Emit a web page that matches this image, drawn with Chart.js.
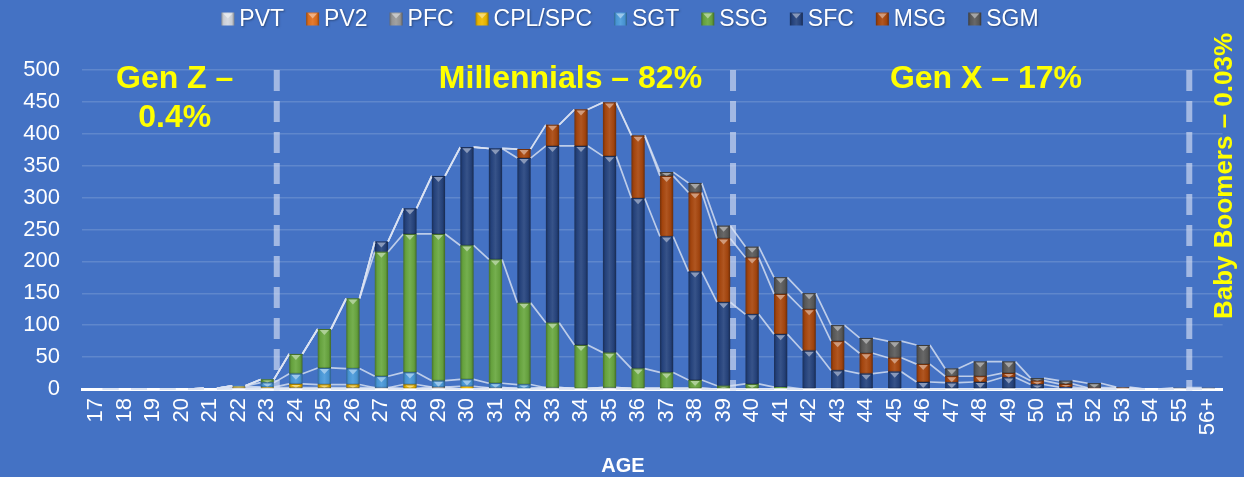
<!DOCTYPE html>
<html>
<head>
<meta charset="utf-8">
<script src="https://cdn.jsdelivr.net/npm/chart.js@4.4.1/dist/chart.umd.min.js"></script>
<style>
  html, body { margin: 0; padding: 0; background: #4472C4; }
  canvas { display: block; }
</style>
</head>
<body>
<canvas id="c" width="1244" height="477"></canvas>
<script>
// ---------------- DATA ----------------
const categories = ['17','18','19','20','21','22','23','24','25','26','27','28','29','30','31','32','33','34','35','36',
                    '37','38','39','40','41','42','43','44','45','46','47','48','49','50','51','52','53','54','55','56+'];
const seriesNames = ['PVT','PV2','PFC','CPL/SPC','SGT','SSG','SFC','MSG','SGM'];

const PVT = [0,0,0,0,0,0,0,0,0,0, 0,0,0,0,0,0,0,0,0,0, 0,0,0,0,0,0,0,0,0,0, 0,0,0,0,0,0,0,0,0,0];
const PV2 = [0,0,0,0,0,0,0,0,0,0, 0,0,0,0,0,0,0,0,0,0, 0,0,0,0,0,0,0,0,0,0, 0,0,0,0,0,0,0,0,0,0];
const PFC = [0,0,0,0,1,2,2,2,2,2, 2,1,3,0,2,1,2,1,2,1, 1,1,0,0,0,0,0,0,0,0, 0,0,0,0,0,0,0,0,0,0];
const CPL = [0,0,0,0,0,2,1,6,5,5, 0,6,0,4,0,0,0,0,0,0, 0,0,0,0,0,0,0,0,0,0, 0,0,0,0,0,0,0,0,0,0];
const SGT = [0,0,0,0,0,1,7,16,26,25, 18,19,10,11,7,6,0,0,0,0, 0,0,0,0,0,0,0,0,0,0, 0,0,0,0,0,0,0,0,0,0];
const SSG = [0,0,0,0,0,0,5,31,61,110, 195,217,230,210,194,128,102,68,55,31, 25,13,5,8,3,0,0,0,0,0, 0,0,0,0,0,0,0,0,0,0];
const SFC = [0,0,0,0,0,0,0,0,0,0, 16,40,91,154,174,227,277,312,308,267, 213,170,131,109,83,60,29,24,27,11, 10,11,18,7,3,1,0,0,0,0];
const MSG = [0,0,0,0,0,0,0,0,0,0, 0,0,0,0,0,14,33,57,84,98, 95,124,100,89,63,65,46,32,22,28, 10,9,7,6,5,1,2,0,0,0];
const SGM = [0,0,0,0,0,0,0,0,0,0, 0,0,0,0,0,0,0,0,0,1, 6,15,20,17,26,25,25,24,26,30, 12,23,18,4,5,7,1,0,2,2];

const seriesValues = [PVT, PV2, PFC, CPL, SGT, SSG, SFC, MSG, SGM];
const seriesColors = ['#D2D7DF','#E2701E','#9A9A9A','#F2BC00','#4A9ADB','#69A840','#26447F','#A9470E','#5B5B5B'];

const yTickMin = 0, yTickMax = 500, yTickStep = 50;
const xTitle = 'AGE';
// generation dividers: after these category labels
const dividerAfter = ['23','39','55'];
const genLabels = [
  { lines: ['Gen Z \u2013', '0.4%'], at: '19.75' },
  { lines: ['Millennials \u2013 82%'], at: '33.63' },
  { lines: ['Gen X \u2013 17%'], at: '48.2' }
];
const sideLabel = 'Baby Boomers \u2013 0.03%';

// ---------------- STYLE HELPERS ----------------
const FONT = "'Liberation Sans', Arial, sans-serif";
const BAR_PCT = 0.465;

function mix(hex, t) {
  const n = parseInt(hex.slice(1), 16);
  const r = (n >> 16) & 255, g = (n >> 8) & 255, b = n & 255;
  const f = c => t >= 0 ? Math.round(c + (255 - c) * t) : Math.round(c * (1 + t));
  return 'rgb(' + f(r) + ',' + f(g) + ',' + f(b) + ')';
}
function hGrad(ctx, x0, x1, hex) {
  const g = ctx.createLinearGradient(x0, 0, x1, 0);
  g.addColorStop(0, mix(hex, -0.32));
  g.addColorStop(0.18, mix(hex, -0.04));
  g.addColorStop(0.5, mix(hex, 0.08));
  g.addColorStop(0.82, mix(hex, -0.06));
  g.addColorStop(1, mix(hex, -0.38));
  return g;
}
function barFill(hex) {
  return (c) => {
    const ch = c.chart;
    const xs = ch.scales && ch.scales.x;
    if (!ch.chartArea || !xs || c.dataIndex === undefined || !xs.width) return hex;
    const step = xs.width / categories.length;
    const w = step * BAR_PCT;
    const xc = xs.getPixelForValue(c.dataIndex);
    return hGrad(ch.ctx, xc - w / 2, xc + w / 2, hex);
  };
}

// ---------------- PLUGINS ----------------
const seriesLinesPlugin = {
  id: 'seriesLines',
  afterDatasetsDraw(chart) {
    const ctx = chart.ctx;
    ctx.save();
    ctx.strokeStyle = 'rgba(220,228,242,0.8)';
    ctx.lineWidth = 1.7;
    chart.data.datasets.forEach((ds, d) => {
      const meta = chart.getDatasetMeta(d);
      ctx.beginPath();
      for (let i = 0; i < meta.data.length - 1; i++) {
        const a = meta.data[i], b = meta.data[i + 1];
        ctx.moveTo(a.x + a.width / 2, a.y);
        ctx.lineTo(b.x - b.width / 2, b.y);
      }
      ctx.stroke();
    });
    ctx.restore();
  }
};

const capsPlugin = {
  id: 'caps',
  afterDatasetsDraw(chart) {
    const ctx = chart.ctx;
    ctx.save();
    chart.data.datasets.forEach((ds, d) => {
      const meta = chart.getDatasetMeta(d);
      const hex = seriesColors[d];
      meta.data.forEach((el, i) => {
        const h = el.base - el.y;
        if (!(h >= 2)) return;
        const w = el.width, x = el.x, y = el.y;
        ctx.fillStyle = mix(hex, -0.35);
        ctx.fillRect(x - w / 2, y, w, 1);
        const th = Math.min(5, h - 1);
        ctx.fillStyle = mix(hex, 0.45);
        ctx.beginPath();
        ctx.moveTo(x - w / 2 + 2, y + 1);
        ctx.lineTo(x + w / 2 - 2, y + 1);
        ctx.lineTo(x, y + 1 + th);
        ctx.closePath();
        ctx.fill();
        ctx.fillStyle = 'rgba(0,0,0,0.18)';
        ctx.fillRect(x - w / 2, el.base - 1, w, 1);
      });
    });
    ctx.restore();
  }
};

const dividersPlugin = {
  id: 'dividers',
  afterDatasetsDraw(chart) {
    const {ctx, chartArea, scales: {x}} = chart;
    const step = x.width / categories.length;
    ctx.save();
    ctx.strokeStyle = 'rgba(220,228,245,0.62)';
    ctx.lineWidth = 6;
    ctx.setLineDash([21, 10]);
    dividerAfter.forEach(lbl => {
      const px = x.getPixelForValue(categories.indexOf(lbl)) + 0.33 * step;
      ctx.beginPath();
      ctx.moveTo(px, chartArea.top);
      ctx.lineTo(px, chartArea.bottom + 2);
      ctx.stroke();
    });
    ctx.restore();
  }
};

const textPlugin = {
  id: 'texts',
  afterDraw(chart) {
    const {ctx, scales: {x}} = chart;
    const step = x.width / categories.length;
    ctx.save();
    ctx.fillStyle = '#FFFF00';
    ctx.font = 'bold 32px ' + FONT;
    ctx.textAlign = 'center';
    ctx.textBaseline = 'alphabetic';
    genLabels.forEach(g => {
      const pos = parseFloat(g.at);
      const px = x.getPixelForValue(0) + (pos - 17) * step;
      g.lines.forEach((ln, k) => ctx.fillText(ln, px, 88 + k * 39));
    });
    ctx.save();
    ctx.translate(1222, 176);
    ctx.rotate(-Math.PI / 2);
    ctx.font = 'bold 26px ' + FONT;
    ctx.fillText(sideLabel, 0, 9.5);
    ctx.restore();
    ctx.fillStyle = '#FFFFFF';
    ctx.font = 'bold 20px ' + FONT;
    ctx.textBaseline = 'middle';
    ctx.fillText(xTitle, 623, 466);

    // legend
    ctx.font = '23px ' + FONT;
    ctx.textAlign = 'left';
    const box = 13, gap = 5, spacing = 22;
    const widths = seriesNames.map(n => ctx.measureText(n).width);
    const total = widths.reduce((s, w) => s + w + box + gap, 0) + spacing * (seriesNames.length - 1);
    let lx = 630 - total / 2;
    const ly = 19;
    seriesNames.forEach((n, i) => {
      const hex = seriesColors[i];
      ctx.fillStyle = hGrad(ctx, lx, lx + box, hex);
      ctx.fillRect(lx, ly - box / 2, box, box);
      ctx.fillStyle = mix(hex, 0.45);
      ctx.beginPath();
      ctx.moveTo(lx + 2, ly - box / 2 + 1);
      ctx.lineTo(lx + box - 2, ly - box / 2 + 1);
      ctx.lineTo(lx + box / 2, ly - box / 2 + 6);
      ctx.closePath();
      ctx.fill();
      ctx.fillStyle = '#FFFFFF';
      ctx.shadowColor = 'rgba(0,0,0,0.35)';
      ctx.shadowOffsetX = 1; ctx.shadowOffsetY = 1; ctx.shadowBlur = 2;
      ctx.fillText(n, lx + box + gap, ly + 1);
      ctx.shadowColor = 'transparent';
      lx += box + gap + widths[i] + spacing;
    });
    ctx.restore();
  }
};

// ---------------- CHART ----------------
const datasets = seriesNames.map((name, i) => ({
  label: name,
  data: seriesValues[i],
  backgroundColor: barFill(seriesColors[i]),
  borderWidth: 0,
  categoryPercentage: 1,
  barPercentage: BAR_PCT
}));

new Chart(document.getElementById('c'), {
  type: 'bar',
  data: { labels: categories, datasets },
  options: {
    responsive: false,
    animation: false,
    layout: { padding: { top: 70, left: 0, right: 17, bottom: 0 } },
    plugins: { legend: { display: false }, tooltip: { enabled: false } },
    scales: {
      x: {
        stacked: true,
        grid: { display: false, drawTicks: false },
        border: { display: true, color: '#FFFFFF', width: 3 },
        ticks: { color: '#FFFFFF', font: { size: 22, family: FONT }, minRotation: 90, maxRotation: 90, padding: 9, autoSkip: false },
        afterFit: s => { s.height = 88; }
      },
      y: {
        stacked: true,
        min: yTickMin, max: yTickMax,
        ticks: { stepSize: yTickStep, color: '#FFFFFF', font: { size: 22, family: FONT }, padding: 22 },
        grid: { color: 'rgba(255,255,255,0.15)', lineWidth: 1.5, drawTicks: false },
        border: { display: false },
        afterFit: s => { s.width = 82; }
      }
    }
  },
  plugins: [seriesLinesPlugin, capsPlugin, dividersPlugin, textPlugin]
});
</script>
</body>
</html>
